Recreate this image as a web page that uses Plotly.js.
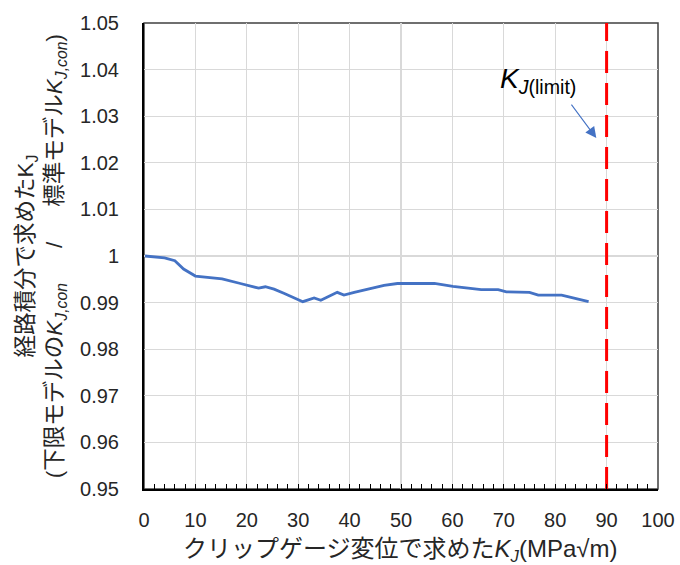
<!DOCTYPE html>
<html>
<head>
<meta charset="utf-8">
<script src="https://cdn.plot.ly/plotly-3.0.1.min.js"></script>
<style>html,body{margin:0;padding:0;background:#fff;}#chart{width:680px;height:565px;}</style>
</head>
<body>
<div id="chart"></div>
<script>
// Data
const kjClip = [0.2, 4, 6, 7.7, 10, 12.2, 15.2, 18.75, 22.3, 23.6, 25.3, 27.2, 29.2, 30.9, 33.1, 34.4, 37.6, 38.9, 40.9, 44.1, 46.7, 49.3, 54.5, 56.5, 60.1, 65.6, 68.9, 70.5, 75, 76.7, 81.25, 83.8, 86.5];
const ratio  = [1.0, 0.9996, 0.999, 0.9972, 0.9957, 0.9954, 0.9951, 0.9941, 0.9931, 0.9934, 0.9929, 0.992, 0.991, 0.9902, 0.991, 0.9905, 0.9922, 0.9916, 0.9922, 0.9931, 0.9937, 0.9941, 0.9941, 0.9941, 0.9935, 0.9928, 0.9928, 0.9923, 0.9922, 0.9916, 0.9916, 0.9909, 0.9902];
const limitX = [90, 90];
const limitY = [0.95, 1.05];
const xTicks = [0, 10, 20, 30, 40, 50, 60, 70, 80, 90, 100];
const yTicks = [0.95, 0.96, 0.97, 0.98, 0.99, 1, 1.01, 1.02, 1.03, 1.04, 1.05];
const yTickText = ['0.95','0.96','0.97','0.98','0.99','1','1.01','1.02','1.03','1.04','1.05'];

const FONT = '"Liberation Sans", Arial, "Noto Sans CJK JP", sans-serif';
const JFONT = '"Liberation Sans", "Noto Sans CJK JP", sans-serif';

const traces = [
  {x: kjClip, y: ratio, type: 'scatter', mode: 'lines',
   line: {color: '#4472C4', width: 2.8}, hoverinfo: 'skip'},
  {x: limitX, y: limitY, type: 'scatter', mode: 'lines',
   line: {color: '#FF0000', width: 3, dash: '22px,10px'}, hoverinfo: 'skip'}
];

const layout = {
  width: 680, height: 565,
  margin: {l: 144, r: 22, t: 23, b: 76},
  paper_bgcolor: '#fff', plot_bgcolor: '#fff',
  showlegend: false,
  font: {family: FONT, color: '#262626', size: 18},
  xaxis: {
    range: [0, 100], tickvals: xTicks, ticktext: xTicks.map(String),
    showgrid: true, gridcolor: '#D9D9D9', gridwidth: 1.3,
    zeroline: false, showline: true, linecolor: '#000', linewidth: 2,
    ticks: 'inside', ticklen: 5, tickcolor: '#000', tickwidth: 1,
    minor: {dtick: 2, ticks: 'inside', ticklen: 5, tickcolor: '#000', tickwidth: 1, showgrid: false},
    ticklabelstandoff: 12,
    tickfont: {size: 20, family: FONT, color: '#262626'}
  },
  yaxis: {
    range: [0.95, 1.05], tickvals: yTicks, ticktext: yTickText,
    showgrid: true, gridcolor: '#D9D9D9', gridwidth: 1.3,
    zeroline: false, showline: true, linecolor: '#000', linewidth: 2,
    ticks: '', ticklabelstandoff: 19,
    tickfont: {size: 20, family: FONT, color: '#262626'}
  },
  shapes: [
    {type: 'rect', xref: 'paper', yref: 'paper', x0: 0, x1: 1, y0: 0, y1: 1,
     line: {color: '#404040', width: 1.5}, layer: 'below'}
  ],
  annotations: [
    {xref: 'paper', yref: 'paper', x: -0.2, y: 0.5, xanchor: 'center', yanchor: 'middle',
     textangle: -90, showarrow: false,
     font: {family: JFONT, size: 22.5, color: '#262626'},
     text: '経路積分で求めたK<sub>J</sub><br>(下限モデルの<i>K</i><sub><i>J,con</i></sub>　  /　  標準モデル<i>K</i><sub><i>J,con</i></sub>)'},
    {xref: 'paper', yref: 'paper', x: 0.498, y: -0.133, xanchor: 'center', yanchor: 'middle',
     showarrow: false, font: {family: JFONT, size: 24, color: '#262626'},
     text: 'クリップゲージ変位で求めた<i>K</i><sub><i>J</i></sub>(MPa√m)'},
    {xref: 'x', yref: 'y', x: 76.6, y: 1.0377, xanchor: 'center', yanchor: 'middle',
     showarrow: false, font: {family: FONT, size: 28, color: '#000'},
     text: '<i>K</i><sub><i>J</i>(limit)</sub>'},
    {xref: 'x', yref: 'y', x: 88.0, y: 1.0253, ax: -26, ay: -35, axref: 'pixel', ayref: 'pixel',
     text: '', showarrow: true, arrowhead: 2, arrowsize: 2, arrowwidth: 1.1, arrowcolor: '#4472C4'}
  ]
};

Plotly.newPlot('chart', traces, layout, {staticPlot: true, displayModeBar: false});
</script>
</body>
</html>
